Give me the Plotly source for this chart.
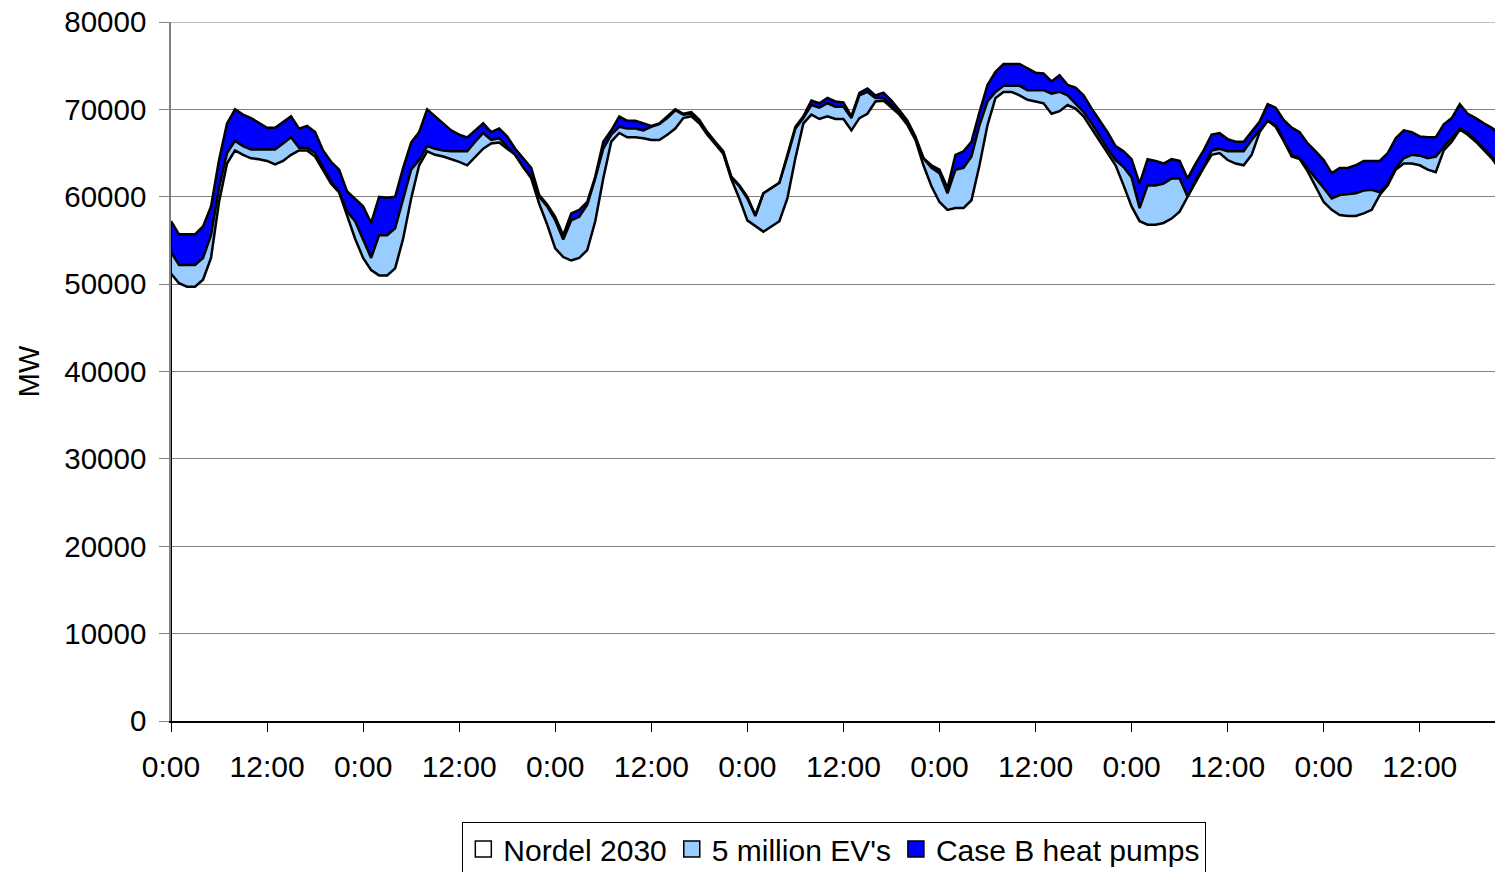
import plotly.graph_objects as go

# Hourly load over one week (hours 0..166), MW
hours = list(range(167))

nordel_2030 = [
    51200, 50100, 49700, 49700, 50500, 53000, 59400, 63800, 65300, 64800, 64400, 64300,
    64100, 63700, 64100, 64800, 65300, 65300, 64600, 63100, 61500, 60500, 57900, 55200,
    53000, 51600, 51000, 51000, 51800, 55200, 59800, 63600, 65200, 64800, 64600, 64300,
    64000, 63600, 64600, 65500, 66100, 66200, 65500, 64800, 63400, 62100, 59200, 56800,
    54100, 53100, 52700, 53000, 53900, 57200, 62100, 66300, 67300, 66800, 66800, 66700,
    66500, 66500, 67100, 67800, 69000, 69200, 68400, 67100, 66000, 64900, 62000, 59800,
    57300, 56600, 56000, 56600, 57200, 59800, 64400, 68400, 69400, 68900, 69200, 68900,
    68900, 67600, 69000, 69500, 70900, 71000, 70200, 69400, 68200, 66500, 63600, 61200,
    59400, 58500, 58700, 58700, 59600, 63600, 68200, 71300, 72000, 72000, 71600, 71100,
    70900, 70700, 69500, 69800, 70500, 70100, 69200, 67800, 66300, 65000, 63600, 61300,
    58900, 57200, 56800, 56800, 57000, 57500, 58300, 60000, 61700, 63300, 64800, 65000,
    64200, 63800, 63600, 64800, 67400, 68700, 68000, 66400, 64600, 64300, 62900, 61200,
    59400, 58500, 57900, 57800, 57800, 58100, 58500, 60200, 61300, 63100, 63800, 63800,
    63600, 63100, 62800, 65300, 66300, 67700, 67100, 66300, 65300, 64400, 63100,
]

ev_5_million = [
    2500, 2100, 2500, 2500, 2500, 2600, 1600, 1200, 1100, 1000, 1000, 1100,
    1300, 1700, 2000, 2000, 300, 300, 400, 200, 200, 100, 400, 2000,
    2200, 1400, 4600, 4600, 4600, 4600, 3300, 600, 600, 700, 700, 900,
    1200, 1600, 1700, 1800, 400, 500, 200, 0, 0, 200, 800, 2100,
    3200, 2000, 4600, 4700, 5200, 4900, 3400, 800, 700, 1000, 1000, 900,
    1500, 1800, 1900, 2100, 400, 300, 200, 200, 100, 100, 200, 1400,
    2500, 1200, 4400, 4400, 4400, 4800, 3400, 600, 1100, 1300, 1500, 1400,
    1400, 1400, 2600, 2500, 400, 300, 300, 100, 200, 200, 800, 2100,
    3300, 1900, 4400, 4600, 5000, 4600, 2700, 700, 700, 700, 1100, 1100,
    1300, 1500, 2300, 2200, 1100, 600, 500, 600, 600, 500, 600, 2100,
    3300, 1500, 4500, 4500, 4500, 4600, 3800, 0, 200, 100, 500, 500,
    1000, 1400, 1600, 1700, 200, 0, 200, 100, 200, 100, 300, 900,
    1600, 1300, 2300, 2500, 2600, 2600, 2300, 300, 200, 200, 600, 1000,
    1100, 1300, 1800, 400, 400, 100, 200, 200, 200, 200, 200,
]

heat_pumps_case_b = [
    3500, 3500, 3500, 3500, 3600, 3300, 3200, 3400, 3600, 3600, 3600, 3000,
    2500, 2500, 2500, 2400, 2200, 2500, 2400, 2000, 2300, 2500, 2300, 2600,
    3700, 4000, 4400, 4300, 3600, 3500, 3100, 3200, 4200, 3700, 3100, 2400,
    1900, 1600, 1300, 1100, 900, 1100, 1200, 700, 1000, 1000, 200, 200,
    400, 500, 800, 800, 300, 200, 800, 500, 1200, 900, 900, 800,
    100, 100, 200, 100, 100, 200, 200, 100, 200, 200, 100, 100,
    200, 100, 0, 0, 0, 200, 200, 200, 500, 500, 600, 600,
    500, 200, 300, 400, 300, 600, 500, 400, 300, 200, 0, 300,
    400, 600, 1700, 1900, 1700, 1500, 1900, 2300, 2500, 2500, 2500, 2500,
    2000, 1900, 1400, 1900, 1200, 1800, 1900, 1700, 1900, 1900, 1600, 1800,
    2100, 2800, 3000, 2800, 2300, 2200, 2000, 2100, 1900, 1900, 1800, 1800,
    1400, 1100, 1100, 900, 1000, 1900, 2000, 2300, 3100, 3000, 2900, 3100,
    3200, 2900, 3100, 3000, 3200, 3400, 3300, 3600, 3500, 3400, 3200, 2600,
    2200, 2400, 2200, 2600, 2300, 2800, 2200, 2500, 2900, 3300, 3800,
]

series_names = ["Nordel 2030", "5 million EV's", "Case B heat pumps"]
series_colors = ["#FFFFFF", "#99CCFF", "#0000FF"]
# the white base area lets the gridlines show through, as in the original
area_fills = ["rgba(255,255,255,0)", "#99CCFF", "#0000FF"]
tick_hours = list(range(0, 167, 12))
tick_text = ["0:00" if h % 24 == 0 else "12:00" for h in tick_hours]
y_ticks = list(range(0, 80001, 10000))

FONT = "Liberation Sans, Arial, sans-serif"

fig = go.Figure()
for name, vals, col, afill in zip(series_names, [nordel_2030, ev_5_million, heat_pumps_case_b],
                                  series_colors, area_fills):
    fig.add_trace(go.Scatter(
        x=hours, y=vals, name=name, stackgroup="load", mode="lines",
        line=dict(color="black", width=2.5), fillcolor=afill, showlegend=False,
        hoverinfo="x+y+name",
    ))
    # legend proxy with a small square marker
    fig.add_trace(go.Scatter(
        x=[None], y=[None], name=name, mode="markers",
        marker=dict(symbol="square", size=17, color=col, line=dict(color="black", width=1.5)),
        showlegend=True,
    ))

total0 = nordel_2030[0] + ev_5_million[0] + heat_pumps_case_b[0]
fig.add_shape(type="line", xref="x", yref="y", x0=0, x1=0, y0=0, y1=total0,
              line=dict(color="black", width=2))
# top gridline at the axis maximum
fig.add_shape(type="line", xref="paper", yref="y", x0=0, x1=1, y0=y_ticks[-1], y1=y_ticks[-1],
              line=dict(color="#808080", width=1), layer="below")

fig.update_layout(
    width=1495, height=872,
    margin=dict(l=171, r=0, t=22, b=151, autoexpand=False),
    paper_bgcolor="white", plot_bgcolor="white",
    font=dict(family=FONT, size=29, color="black"),
    legend=dict(
        orientation="h", x=0.501, xanchor="center", y=-0.1445, yanchor="top",
        bordercolor="black", borderwidth=1, bgcolor="white",
        font=dict(family=FONT, size=30, color="black"),
        itemwidth=30, tracegroupgap=0, traceorder="normal",
    ),
    showlegend=True,
)

fig.update_xaxes(
    range=[0, 165.4], tickmode="array", tickvals=tick_hours, ticktext=tick_text,
    showgrid=False, zeroline=False, showline=True, linecolor="black", linewidth=1.5,
    ticks="outside", ticklen=9, tickcolor="black", tickwidth=1,
    tickfont=dict(family=FONT, size=30, color="black"),
    ticklabelstandoff=9, automargin=False,
)
fig.update_yaxes(
    range=[0, 80000], tickmode="array", tickvals=y_ticks,
    ticktext=[str(v) for v in y_ticks],
    showgrid=True, gridcolor="#808080", gridwidth=1, zeroline=False,
    showline=True, linecolor="#808080", linewidth=1.5,
    ticks="outside", ticklen=10, tickcolor="#808080", tickwidth=1,
    tickfont=dict(family=FONT, size=29.5, color="black"),
    ticklabelstandoff=7, automargin=False,
    title=dict(text="MW", font=dict(family=FONT, size=29, color="black"), standoff=16),
)

fig.write_html(
    "out.html",
    config={"displayModeBar": False},
    post_script="document.body.style.margin='0';document.body.style.overflow='hidden';",
)
